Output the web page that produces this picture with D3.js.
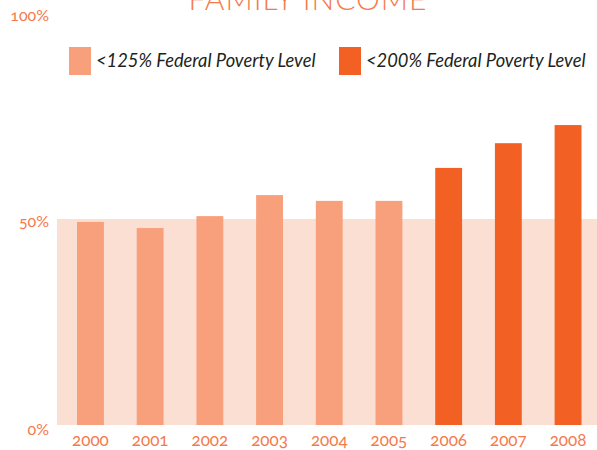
<!DOCTYPE html>
<html>
<head>
<meta charset="utf-8">
<style>
body { margin: 0; background: #fff; font-family: "Lato", "Open Sans", sans-serif; }
.tick-label { fill: #f47a4c; font-size: 16px; font-variant-numeric: oldstyle-nums; }
.xlab { font-size: 17px; }
.legend-label { fill: #231f20; font-size: 18.3px; font-style: italic; }
.title { fill: #f47a4c; font-size: 30px; font-weight: 300; letter-spacing: 1px; }
</style>
</head>
<body>
<script src="https://cdn.jsdelivr.net/npm/d3@7"></script>
<script>
var width = 597, height = 450;

// data
var years = ["2000", "2001", "2002", "2003", "2004", "2005", "2006", "2007", "2008"];
var shares = [49.3, 47.8, 50.7, 55.8, 54.4, 54.4, 62.4, 68.4, 72.8];
var levels = ["<125%", "<125%", "<125%", "<125%", "<125%", "<125%", "<200%", "<200%", "<200%"];
var seriesNames = ["<125%", "<200%"];
var seriesLabels = ["<125% Federal Poverty Level", "<200% Federal Poverty Level"];
var yTicks = [0, 50, 100];

var color = d3.scaleOrdinal().domain(seriesNames).range(["#f7a07b", "#f26024"]);

var svg = d3.select("body").append("svg")
    .attr("width", width)
    .attr("height", height);

var x = d3.scaleBand()
    .domain(years)
    .range([60.6, 597.9])
    .paddingInner(0.55)
    .paddingOuter(0.275);

var y = d3.scaleLinear()
    .domain([0, 100])
    .range([425, 13]);

// title, clipped at the top
svg.append("text")
    .attr("class", "title")
    .attr("x", 308)
    .attr("y", 10)
    .attr("text-anchor", "middle")
    .text("FAMILY INCOME");

// shaded band under 50%
svg.append("rect")
    .attr("x", 57)
    .attr("y", y(50))
    .attr("width", width - 57)
    .attr("height", y(0) - y(50))
    .attr("fill", "#fbdfd3");

// bars
svg.selectAll(".bar")
    .data(years)
    .enter().append("rect")
    .attr("class", "bar")
    .attr("x", function(d) { return x(d); })
    .attr("width", x.bandwidth())
    .attr("y", function(d, i) { return y(shares[i]); })
    .attr("height", function(d, i) { return y(0) - y(shares[i]); })
    .attr("fill", function(d, i) { return color(levels[i]); });

// y labels
svg.selectAll(".ylab")
    .data(yTicks)
    .enter().append("text")
    .attr("class", "tick-label ylab")
    .attr("x", 49)
    .attr("y", function(d) { return y(d); })
    .attr("dy", function(d) { return d == 0 ? "0.65em" : "0.5em"; })
    .attr("text-anchor", "end")
    .text(function(d) { return d + "%"; });

// x labels
svg.selectAll(".xlab")
    .data(years)
    .enter().append("text")
    .attr("class", "tick-label xlab")
    .attr("x", function(d) { return x(d) + x.bandwidth() / 2; })
    .attr("y", 446)
    .attr("text-anchor", "middle")
    .text(function(d) { return d; });

// legend
var legendX = [69, 339];
var legend = svg.selectAll(".legend")
    .data(seriesNames)
    .enter().append("g")
    .attr("class", "legend")
    .attr("transform", function(d, i) { return "translate(" + legendX[i] + ",47)"; });

legend.append("rect")
    .attr("width", 22)
    .attr("height", 28)
    .attr("fill", function(d) { return color(d); });

legend.append("text")
    .attr("class", "legend-label")
    .attr("x", 27)
    .attr("y", 14)
    .attr("dy", "0.35em")
    .text(function(d, i) { return seriesLabels[i]; });
</script>
</body>
</html>
